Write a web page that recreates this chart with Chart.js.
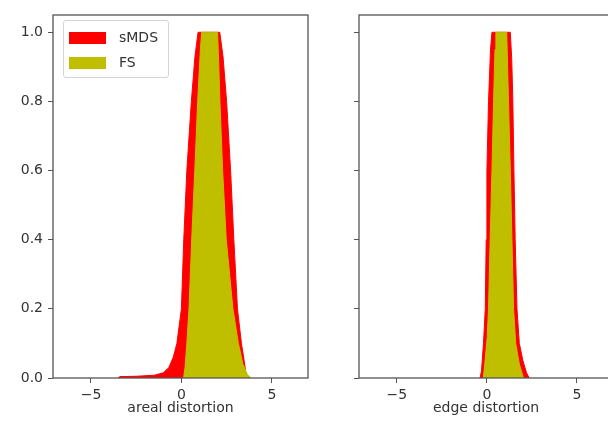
<!DOCTYPE html>
<html>
<head>
<meta charset="utf-8">
<script src="https://cdn.jsdelivr.net/npm/chart.js@4.4.0/dist/chart.umd.min.js"></script>
<style>
  html, body { margin: 0; padding: 0; width: 608px; height: 428px; overflow: hidden; background: #fff; }
  .panel { position: absolute; top: 0; height: 428px; }
  #left-panel { left: 0; width: 320px; }
  #right-panel { left: 305px; width: 320px; }
  .legend {
    position: absolute; left: 63px; top: 20px; width: 104px; height: 56px;
    border: 1px solid #d4d4d4; border-radius: 3px; background: rgba(255,255,255,0.8);
    font-family: 'DejaVu Sans', sans-serif; font-size: 14px; color: #333;
  }
  .legend .item { position: absolute; left: 5px; height: 14px; }
  .legend .swatch { position: absolute; left: 0; top: 0; width: 37px; height: 12px; }
  .legend .label { position: absolute; left: 50px; top: -3px; white-space: nowrap; }
</style>
</head>
<body>
<div class="panel" id="left-panel"><canvas id="areal-chart"></canvas></div>
<div class="panel" id="right-panel"><canvas id="edge-chart"></canvas></div>
<div class="legend" id="legend"></div>
<script>
// histogram outlines (normalised to peak = 1)
const arealSmdsX = [-3.5, -3.4, -2.5, -1.5, -1.0, -0.7, -0.45, -0.25, 0.0, 0.13, 0.3, 0.55, 0.75, 0.92, 2.12, 2.3, 2.5, 2.72, 2.9, 3.1, 3.32, 3.47, 3.6];
const arealSmdsY = [0, 0.004, 0.005, 0.008, 0.015, 0.03, 0.06, 0.1, 0.2, 0.4, 0.6, 0.8, 0.93, 1.0, 1.0, 0.93, 0.8, 0.6, 0.4, 0.2, 0.1, 0.05, 0];
const arealFsX = [0.12, 0.2, 0.3, 0.42, 0.57, 0.74, 0.9, 1.05, 1.12, 2.0, 2.07, 2.13, 2.28, 2.48, 2.85, 3.15, 3.4, 3.65, 3.85];
const arealFsY = [0, 0.03, 0.1, 0.2, 0.4, 0.6, 0.8, 0.95, 1.0, 1.0, 0.9, 0.8, 0.6, 0.4, 0.2, 0.1, 0.04, 0.01, 0];

const edgeSmdsX = [-0.38, -0.3, -0.19, -0.09, -0.04, 0.0, 0.09, 0.2, 0.28, 1.3, 1.38, 1.44, 1.5, 1.57, 1.67, 1.8, 2.0, 2.2, 2.35];
const edgeSmdsY = [0, 0.02, 0.1, 0.2, 0.4, 0.6, 0.8, 0.95, 1.0, 1.0, 0.92, 0.8, 0.6, 0.4, 0.2, 0.1, 0.05, 0.015, 0];
const edgeFsX = [-0.2, -0.1, 0.02, 0.09, 0.18, 0.28, 0.37, 0.45, 0.5, 1.1, 1.15, 1.2, 1.3, 1.39, 1.48, 1.6, 1.8, 2.03];
const edgeFsY = [0, 0.05, 0.12, 0.2, 0.4, 0.6, 0.8, 0.95, 1.0, 1.0, 0.9, 0.8, 0.6, 0.4, 0.2, 0.1, 0.04, 0];

const seriesNames = ['sMDS', 'FS'];
const seriesColors = ['#ff0000', '#bfbf00'];
const xTicks = [-5, 0, 5];
const yTicks = [0, 0.2, 0.4, 0.6, 0.8, 1.0];

const FONT = { family: "'DejaVu Sans', sans-serif", size: 14 };
const TEXT = '#333';
const SPINE = '#555';

function toPoints(xs, ys) {
  return xs.map((x, i) => ({ x: x, y: ys[i] }));
}

function fmtTick(v) {
  return v < 0 ? '\u2212' + Math.abs(v) : String(v);
}

// matplotlib-style box round the axes
const frame = {
  id: 'frame',
  afterDraw(chart) {
    const a = chart.chartArea;
    const ctx = chart.ctx;
    ctx.save();
    ctx.strokeStyle = SPINE;
    ctx.lineWidth = 1.3;
    ctx.strokeRect(a.left, a.top, a.right - a.left, a.bottom - a.top);
    ctx.restore();
  }
};

function makeChart(canvasId, smds, fs, xTitle, showYLabels, yAxisWidth) {
  const ds = (name, pts, color, order) => ({
    label: name,
    data: pts,
    borderColor: color,
    backgroundColor: color,
    borderWidth: 1,
    pointRadius: 0,
    tension: 0,
    fill: 'origin',
    order: order,
  });
  return new Chart(document.getElementById(canvasId), {
    type: 'line',
    data: {
      datasets: [
        ds(seriesNames[0], smds, seriesColors[0], 2),
        ds(seriesNames[1], fs, seriesColors[1], 1),
      ],
    },
    options: {
      responsive: true,
      maintainAspectRatio: false,
      animation: false,
      layout: { padding: { left: 0, top: 15, right: 12, bottom: 0 } },
      plugins: { legend: { display: false }, tooltip: { enabled: false } },
      scales: {
        x: {
          type: 'linear',
          min: -7.1,
          max: 7.0,
          afterBuildTicks: s => { s.ticks = xTicks.map(v => ({ value: v })); },
          afterFit: s => { s.height = 50; },
          grid: { drawOnChartArea: false, drawTicks: true, tickLength: 5, color: SPINE },
          border: { display: false },
          ticks: { font: FONT, color: TEXT, padding: 4, maxRotation: 0, callback: v => fmtTick(v) },
          title: { display: true, text: xTitle, font: FONT, color: TEXT, padding: { top: 2, bottom: 11 } },
        },
        y: {
          type: 'linear',
          min: 0,
          max: 1.05,
          afterBuildTicks: s => { s.ticks = yTicks.map(v => ({ value: v })); },
          afterFit: s => { s.width = yAxisWidth; },
          grid: { drawOnChartArea: false, drawTicks: true, tickLength: 5, color: SPINE },
          border: { display: false },
          ticks: { font: FONT, color: TEXT, padding: 5, callback: v => showYLabels ? v.toFixed(1) : '' },
        },
      },
    },
    plugins: [frame],
  });
}

makeChart('areal-chart', toPoints(arealSmdsX, arealSmdsY), toPoints(arealFsX, arealFsY), 'areal distortion', true, 53);
makeChart('edge-chart', toPoints(edgeSmdsX, edgeSmdsY), toPoints(edgeFsX, edgeFsY), 'edge distortion', false, 54);

// legend box in the upper left of the first panel
const legend = document.getElementById('legend');
legend.innerHTML = seriesNames.map((name, i) =>
  `<div class="item" style="top:${11 + i * 25}px">
     <span class="swatch" style="background:${seriesColors[i]}"></span>
     <span class="label">${name}</span>
   </div>`
).join('');
</script>
</body>
</html>
